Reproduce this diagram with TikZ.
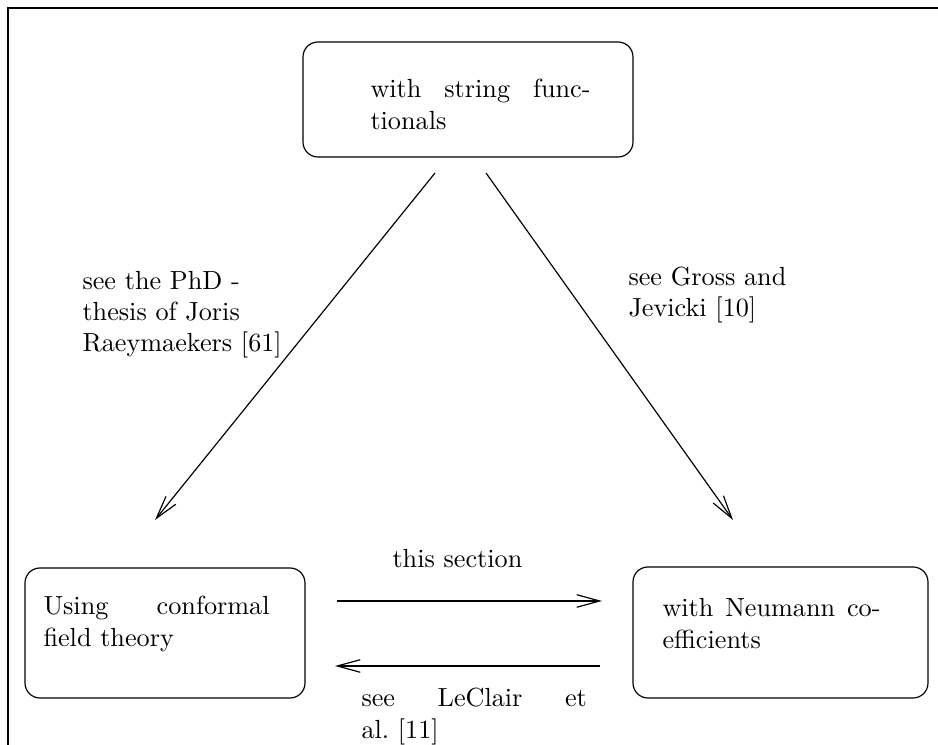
\documentclass[tikz,border=0pt]{standalone}
\usetikzlibrary{arrows.meta,fit}
\begin{document}
\begin{tikzpicture}[x=0.3817pt,y=-0.3817pt,
  box/.style={draw, rounded corners=5.7pt, line width=0.45pt, inner sep=0pt},
  txt/.style={inner sep=0pt, anchor=base west, align=justify},
  lbl/.style={inner sep=0pt, anchor=base west, align=left},
  arr/.style={line width=0.45pt, -{Straight Barb[length=8.8pt,width=4.8pt]}}]
\useasboundingbox (0,0) rectangle (938,745);
% frame
\coordinate (ftr) at (945,8);
\coordinate (ftl) at (8,8);
\coordinate (fbl) at (8,750);
\draw[line width=0.45pt] (ftr) -- (ftl) -- (fbl);
% boxes
\coordinate (topnw) at (303,42);   \coordinate (topse) at (633,157);
\coordinate (leftnw) at (25,568);  \coordinate (leftse) at (305,698);
\coordinate (rightnw) at (633,567);\coordinate (rightse) at (928,698);
\node[box, fit=(topnw)(topse)] (top) {};
\node[box, fit=(leftnw)(leftse)] (left) {};
\node[box, fit=(rightnw)(rightse)] (right) {};
% box texts
\node[txt, text width=84pt] (toptext) at (370,98) {with string func-\linebreak tionals};
\node[txt, text width=86.3pt] (lefttext) at (43,615) {Using conformal\linebreak field theory};
\node[txt, text width=83.2pt] (righttext) at (662,617) {with Neumann co-\linebreak efficients};
% arrows
\coordinate (a1s) at (435,173); \coordinate (a1e) at (155,520);
\coordinate (a2s) at (486,173); \coordinate (a2e) at (733,520);
\coordinate (h1s) at (337,601); \coordinate (h1e) at (602,601);
\coordinate (h2s) at (600,666); \coordinate (h2e) at (335,666);
\draw[arr] (a1s) -- (a1e);
\draw[arr] (a2s) -- (a2e);
\draw[arr] (h1s) -- (h1e);
\draw[arr] (h2s) -- (h2e);
% labels
\node[lbl] (lblphd) at (82,352) {see the PhD -\\thesis of Joris\\Raeymaekers [61]};
\node[lbl] (lblgross) at (628,317) {see Gross and\\Jevicki [10]};
\node[lbl] (lblthis) at (392,568) {this section};
\node[txt, text width=86pt] (lblleclair) at (361,707) {see LeClair et\linebreak al.~[11]};
\end{tikzpicture}
\end{document}
